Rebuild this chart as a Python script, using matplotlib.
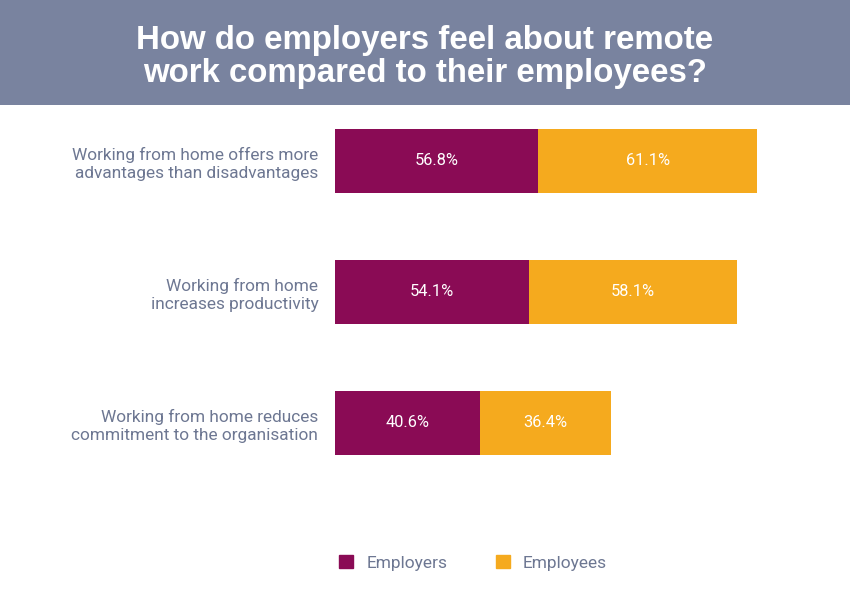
import numpy as np
import matplotlib.pyplot as plt
from matplotlib.patches import Patch

# data
statements = [
    "Working from home offers more\nadvantages than disadvantages",
    "Working from home\nincreases productivity",
    "Working from home reduces\ncommitment to the organisation",
]
employers = [56.8, 54.1, 40.6]
employees = [61.1, 58.1, 36.4]

PURPLE = "#8A0B55"
ORANGE = "#F5AA1E"
LABEL = "#6D7792"
BANNER = "#79839F"

plt.rcParams['font.family'] = ['Roboto', 'DejaVu Sans']

fig = plt.figure(figsize=(8.5, 6), dpi=100)

# title banner
bax = fig.add_axes([0, 1 - 105 / 600, 1, 105 / 600])
bax.set_facecolor(BANNER)
bax.set_xticks([])
bax.set_yticks([])
for s in bax.spines.values():
    s.set_visible(False)
bax.text(0.5, 0.46, "How do employers feel about remote\nwork compared to their employees?",
         ha="center", va="center", color="white", fontsize=23.8, fontweight="bold",
         family=["Liberation Sans", "DejaVu Sans"], linespacing=1.08,
         transform=bax.transAxes)

# bars
ax = fig.add_axes([335 / 850, 1 - 488 / 600, 429.6 / 850, 393 / 600])
y = np.arange(len(statements))
h = 64 / 131
b1 = ax.barh(y, employers, height=h, color=PURPLE)
b2 = ax.barh(y, employees, left=employers, height=h, color=ORANGE)
for bars, vals in ((b1, employers), (b2, employees)):
    for bar, v in zip(bars, vals):
        ax.text(bar.get_x() + bar.get_width() / 2, bar.get_y() + bar.get_height() / 2,
                f"{v}%", ha="center", va="center", color="white", fontsize=11.8)

ax.set_xlim(0, 120)
ax.set_ylim(2.5, -0.5)
ax.set_xticks([])
ax.set_yticks(y)
ax.set_yticklabels(statements, fontsize=12.4, color=LABEL, ha="right",
                   linespacing=1.28)
ax.tick_params(axis="y", length=0, pad=12)
for s in ax.spines.values():
    s.set_visible(False)
ax.set_facecolor("none")

handles = [Patch(color=PURPLE, label="Employers"), Patch(color=ORANGE, label="Employees")]
fig.legend(handles=handles, loc="center", bbox_to_anchor=(473 / 850, 1 - 563 / 600),
           ncol=2, frameon=False, fontsize=12.5, labelcolor=LABEL,
           handlelength=0.8, handleheight=0.8, handletextpad=0.75, columnspacing=2.8)

fig.savefig("out.png", dpi=100)
